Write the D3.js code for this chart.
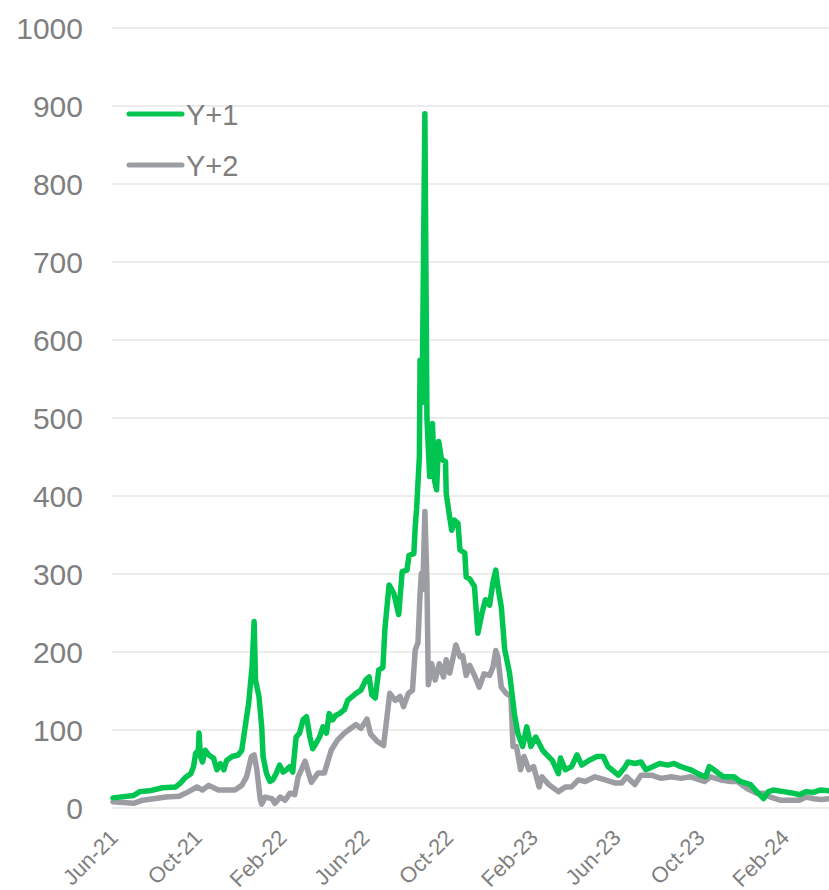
<!DOCTYPE html>
<html>
<head>
<meta charset="utf-8">
<script src="https://cdn.jsdelivr.net/npm/d3@7"></script>
<style>
  html, body { margin: 0; padding: 0; background: #ffffff; }
  svg { display: block; }
</style>
</head>
<body>
<svg id="chart" width="829" height="890"></svg>
<script>
// ---- Data ----
const seriesNames = ["Y+1", "Y+2"];
const yTicks = [0, 100, 200, 300, 400, 500, 600, 700, 800, 900, 1000];
const xTickDates = ["2021-06-01","2021-10-01","2022-02-01","2022-06-01","2022-10-01","2023-02-01","2023-06-01","2023-10-01","2024-02-01"];
const xTickLabels = ["Jun-21","Oct-21","Feb-22","Jun-22","Oct-22","Feb-23","Jun-23","Oct-23","Feb-24"];

const y1Dates = ["2021-06-01","2021-07-01","2021-07-10","2021-07-24","2021-08-12","2021-08-31","2021-09-07","2021-09-14","2021-09-22","2021-09-26","2021-09-29","2021-10-03","2021-10-04","2021-10-06","2021-10-09","2021-10-13","2021-10-18","2021-10-25","2021-10-30","2021-11-04","2021-11-09","2021-11-13","2021-11-21","2021-11-30","2021-12-05","2021-12-10","2021-12-15","2021-12-20","2021-12-23","2021-12-25","2021-12-30","2022-01-03","2022-01-05","2022-01-10","2022-01-15","2022-01-19","2022-01-24","2022-01-29","2022-02-03","2022-02-08","2022-02-13","2022-02-17","2022-02-22","2022-02-27","2022-03-04","2022-03-09","2022-03-14","2022-03-18","2022-03-23","2022-03-28","2022-04-02","2022-04-07","2022-04-11","2022-04-16","2022-04-21","2022-04-26","2022-05-03","2022-05-08","2022-05-12","2022-05-20","2022-05-27","2022-06-03","2022-06-08","2022-06-12","2022-06-17","2022-06-22","2022-06-28","2022-07-01","2022-07-07","2022-07-14","2022-07-21","2022-07-26","2022-08-02","2022-08-05","2022-08-12","2022-08-14","2022-08-16","2022-08-20","2022-08-21","2022-08-24","2022-08-28","2022-08-31","2022-09-04","2022-09-08","2022-09-11","2022-09-14","2022-09-17","2022-09-21","2022-09-23","2022-09-27","2022-09-28","2022-10-03","2022-10-06","2022-10-10","2022-10-15","2022-10-18","2022-10-25","2022-10-27","2022-11-01","2022-11-08","2022-11-13","2022-11-19","2022-11-24","2022-11-30","2022-12-05","2022-12-09","2022-12-12","2022-12-17","2022-12-22","2022-12-29","2023-01-05","2023-01-10","2023-01-17","2023-01-23","2023-01-29","2023-02-05","2023-02-15","2023-02-19","2023-03-01","2023-03-10","2023-03-13","2023-03-20","2023-03-29","2023-04-06","2023-04-13","2023-04-23","2023-05-05","2023-05-14","2023-05-21","2023-06-05","2023-06-15","2023-06-19","2023-06-29","2023-07-08","2023-07-15","2023-07-25","2023-08-04","2023-08-16","2023-08-25","2023-09-04","2023-09-18","2023-10-03","2023-10-10","2023-10-15","2023-10-22","2023-10-29","2023-11-05","2023-11-20","2023-11-29","2023-12-14","2023-12-23","2024-01-02","2024-01-09","2024-01-16","2024-01-31","2024-02-14","2024-02-23","2024-03-04","2024-03-14","2024-03-24","2024-04-06"];
const y1Values = [13,16,21,22,26,27,32,39,44,53,70,74,96,66,59,74,68,64,49,57,49,61,66,68,74,104,134,181,239,164,143,104,66,44,34,36,44,55,46,49,53,46,91,96,113,117,91,76,83,91,104,96,121,113,119,121,126,138,141,147,151,164,168,145,141,177,180,230,286,275,248,303,305,324,326,361,384,450,574,520,890,500,425,493,420,408,470,448,446,444,403,373,356,369,365,331,327,296,294,284,224,250,267,260,290,305,284,258,203,173,121,96,79,104,79,91,74,70,61,44,64,49,53,68,55,61,66,66,53,42,53,59,57,59,49,53,57,55,57,53,49,42,40,53,49,44,40,40,34,30,21,12,21,23,21,19,17,21,20,23,22];

const y2Dates = ["2021-06-01","2021-07-01","2021-07-14","2021-08-17","2021-09-05","2021-09-19","2021-10-01","2021-10-09","2021-10-18","2021-11-01","2021-11-11","2021-11-25","2021-12-05","2021-12-12","2021-12-19","2021-12-23","2021-12-27","2022-01-01","2022-01-03","2022-01-08","2022-01-18","2022-01-22","2022-01-30","2022-02-06","2022-02-13","2022-02-20","2022-02-25","2022-03-07","2022-03-16","2022-03-26","2022-04-04","2022-04-14","2022-04-23","2022-05-03","2022-05-12","2022-05-20","2022-05-27","2022-06-05","2022-06-10","2022-06-19","2022-06-29","2022-07-04","2022-07-08","2022-07-16","2022-07-23","2022-07-28","2022-08-04","2022-08-10","2022-08-14","2022-08-18","2022-08-21","2022-08-23","2022-08-25","2022-08-28","2022-08-31","2022-09-02","2022-09-07","2022-09-12","2022-09-18","2022-09-24","2022-09-28","2022-10-03","2022-10-12","2022-10-18","2022-10-22","2022-10-27","2022-11-01","2022-11-08","2022-11-15","2022-11-22","2022-11-30","2022-12-05","2022-12-09","2022-12-12","2022-12-17","2022-12-24","2022-12-31","2023-01-03","2023-01-08","2023-01-14","2023-01-19","2023-01-26","2023-02-02","2023-02-10","2023-02-14","2023-02-24","2023-03-10","2023-03-20","2023-03-29","2023-04-08","2023-04-18","2023-05-02","2023-05-17","2023-06-01","2023-06-10","2023-06-17","2023-06-29","2023-07-08","2023-07-23","2023-08-06","2023-08-21","2023-09-04","2023-09-18","2023-10-08","2023-10-17","2023-11-01","2023-11-15","2023-11-25","2023-12-09","2023-12-23","2024-01-02","2024-01-12","2024-01-26","2024-02-09","2024-02-23","2024-03-04","2024-03-14","2024-03-26","2024-04-06"];
const y2Values = [8,6,10,14,15,21,27,23,29,23,23,23,29,40,66,68,49,10,5,14,12,6,14,10,19,17,40,60,33,45,45,74,87,96,102,107,102,114,95,86,80,117,147,138,143,130,147,151,203,212,275,301,280,380,290,158,185,164,185,168,190,173,209,194,195,170,183,170,155,172,170,181,202,194,155,147,143,79,79,49,66,49,53,27,40,30,21,27,27,36,34,40,36,32,32,40,30,42,42,38,40,38,40,34,40,36,34,34,25,19,19,14,10,10,10,14,12,11,12];

// ---- Layout ----
const parse = d3.utcParse("%Y-%m-%d");
const svg = d3.select("#chart");
const plotLeft = 112, plotRight = 829, plotTop = 28, plotBottom = 808;

const x = d3.scaleUtc()
  .domain([parse("2021-06-01"), parse("2024-04-06")])
  .range([113, 829]);
const y = d3.scaleLinear().domain([0, 1000]).range([plotBottom, plotTop]);

const textColor = "#7f7f7f";
const fontFamily = "'Liberation Sans', Arial, sans-serif";

// gridlines
svg.append("g")
  .selectAll("line")
  .data(yTicks)
  .join("line")
  .attr("x1", plotLeft).attr("x2", plotRight)
  .attr("y1", d => y(d)).attr("y2", d => y(d))
  .attr("stroke", "#d9d9d9").attr("stroke-width", 1.2);

// y axis labels
const yAxis = d3.axisLeft(y).tickValues(yTicks).tickSize(0).tickPadding(0).tickFormat(d3.format("d"));
const gy = svg.append("g").attr("transform", "translate(83,0)").call(yAxis);
gy.select(".domain").remove();
gy.selectAll("text")
  .attr("fill", textColor)
  .style("font-family", fontFamily)
  .style("font-size", "30px")
  .attr("x", 0)
  .attr("dy", "0.36em");

// x axis labels
const xAxis = d3.axisBottom(x)
  .tickValues(xTickDates.map(parse))
  .tickSize(0)
  .tickFormat((d, i) => xTickLabels[i]);
const gx = svg.append("g").call(xAxis);
gx.select(".domain").remove();
gx.selectAll(".tick text")
  .attr("fill", textColor)
  .style("font-family", fontFamily)
  .style("font-size", "22px")
  .attr("text-anchor", "end")
  .attr("x", 0).attr("y", 0).attr("dy", 0)
  .attr("transform", "translate(6,839) rotate(-45)");

// lines
const line = d3.line()
  .x(d => x(d[0]))
  .y(d => y(d[1]));

const s1 = y1Dates.map((d, i) => [parse(d), y1Values[i]]);
const s2 = y2Dates.map((d, i) => [parse(d), y2Values[i]]);

svg.append("path")
  .datum(s2)
  .attr("d", line)
  .attr("fill", "none")
  .attr("stroke", "#9b9da2")
  .attr("stroke-width", 5.5)
  .attr("stroke-linejoin", "round")
  .attr("stroke-linecap", "round");

svg.append("path")
  .datum(s1)
  .attr("d", line)
  .attr("fill", "none")
  .attr("stroke", "#00c551")
  .attr("stroke-width", 5.5)
  .attr("stroke-linejoin", "round")
  .attr("stroke-linecap", "round");

// legend
const legendColors = ["#00c551", "#9b9da2"];
const lg = svg.append("g");
seriesNames.forEach((name, i) => {
  const cy = 114 + i * 51;
  lg.append("line")
    .attr("x1", 129).attr("x2", 182)
    .attr("y1", cy).attr("y2", cy)
    .attr("stroke", legendColors[i])
    .attr("stroke-width", 5)
    .attr("stroke-linecap", "round");
  lg.append("text")
    .attr("x", 186).attr("y", cy + 11)
    .attr("fill", textColor)
    .style("font-family", fontFamily)
    .style("font-size", "29px")
    .text(name);
});
</script>
</body>
</html>
